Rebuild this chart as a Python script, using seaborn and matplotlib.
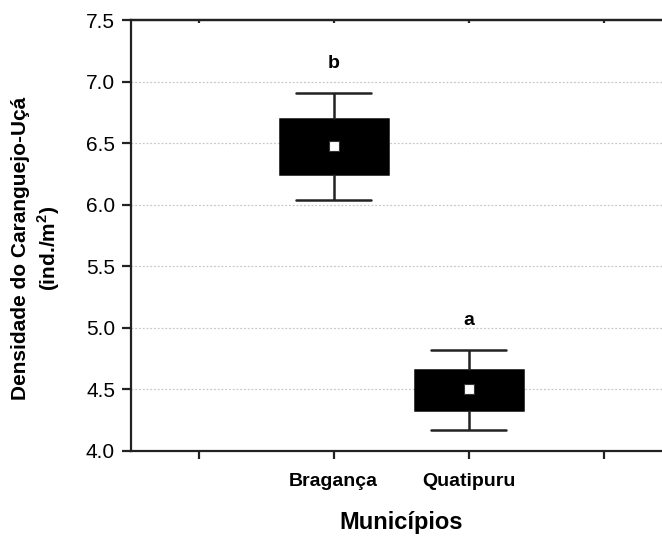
import numpy as np
import pandas as pd
import matplotlib
matplotlib.use("Agg")
import matplotlib.pyplot as plt
import seaborn as sns

# ---- data ----
municipios = ["Bragança", "Quatipuru"]
minimo = [6.04, 4.17]
q1 = [6.25, 4.33]
mediana = [6.48, 4.50]
q3 = [6.70, 4.66]
maximo = [6.91, 4.82]
letras = ["b", "a"]
ordem = ["", "Bragança", "Quatipuru", " "]
yticks = [4.0, 4.5, 5.0, 5.5, 6.0, 6.5, 7.0, 7.5]

rows = []
for i, m in enumerate(municipios):
    for v in (minimo[i], q1[i], mediana[i], q3[i], maximo[i]):
        rows.append({"Município": m, "Densidade": v})
df = pd.DataFrame(rows)
df_med = pd.DataFrame({"Município": municipios, "Densidade": mediana})

sns.set_style("white")
plt.rcParams["font.family"] = ["Liberation Sans", "DejaVu Sans"]
plt.rcParams["mathtext.fontset"] = "custom"
plt.rcParams["mathtext.rm"] = "Liberation Sans"
plt.rcParams["mathtext.bf"] = "Liberation Sans:bold"
for k in ("text.color", "axes.labelcolor", "xtick.color", "ytick.color"):
    plt.rcParams[k] = "black"

fig = plt.figure(figsize=(6.62, 5.37), dpi=100)
L, R, T, B = 131, 671, 20, 451
ax = fig.add_axes([L / 662, (537 - B) / 537, (R - L) / 662, (B - T) / 537])

ax.set_axisbelow(True)
ax.yaxis.grid(True, linestyle=(0, (1.5, 1.5)), color="#c8c8c8", linewidth=0.9)

sns.boxplot(data=df, x="Município", y="Densidade", order=ordem, whis=np.inf,
            width=0.8, color="black", saturation=1, linecolor="#222222",
            linewidth=1.8, medianprops={"color": "black"},
            boxprops={"edgecolor": "black"},
            capwidths=0.56, ax=ax)

sns.stripplot(data=df_med, x="Município", y="Densidade", order=ordem,
              jitter=False, marker="s", color="white", edgecolor="#333333",
              linewidth=0.8, size=6.5, ax=ax, zorder=5)

for i, m in enumerate(municipios):
    ax.text(ordem.index(m), maximo[i] + 0.24, letras[i], ha="center",
            va="center", fontsize=14, fontweight="bold", color="black")

ax.set_xlim(-0.5, 3.5)
ax.set_ylim(4.0, 7.5)
ax.set_yticks(yticks)
ax.set_yticklabels([f"{v:.1f}" for v in yticks], fontsize=15)
ax.set_xticks(range(len(ordem)))
ax.set_xticklabels(ordem, fontsize=14, fontweight="bold")

for s in ("left", "bottom", "top"):
    ax.spines[s].set_linewidth(1.6)
    ax.spines[s].set_color("#222222")
ax.spines["right"].set_visible(False)

ax.tick_params(axis="x", bottom=True, top=False, direction="out", length=6,
               width=1.6, color="#222222", pad=10)
ax.tick_params(axis="y", left=True, direction="out", length=6.5, width=1.6,
               color="#222222", pad=5)

sec = ax.secondary_xaxis("top")
sec.set_xticks(range(len(ordem)))
sec.set_xticklabels([])
sec.tick_params(direction="in", length=2.5, width=1.6, color="#222222")
sec.spines["top"].set_linewidth(1.6)
sec.spines["top"].set_color("#222222")

ax.set_xlabel("Municípios", fontsize=17, fontweight="bold")
ax.xaxis.set_label_coords(0.5, -0.14)
ax.set_ylabel("Densidade do Caranguejo-Uçá\n(ind./m$^{\\mathbf{2}}$)",
              fontsize=15, fontweight="bold", linespacing=1.25)
ax.yaxis.set_label_coords(-0.128, 0.47)

fig.savefig("out.png", dpi=100)
